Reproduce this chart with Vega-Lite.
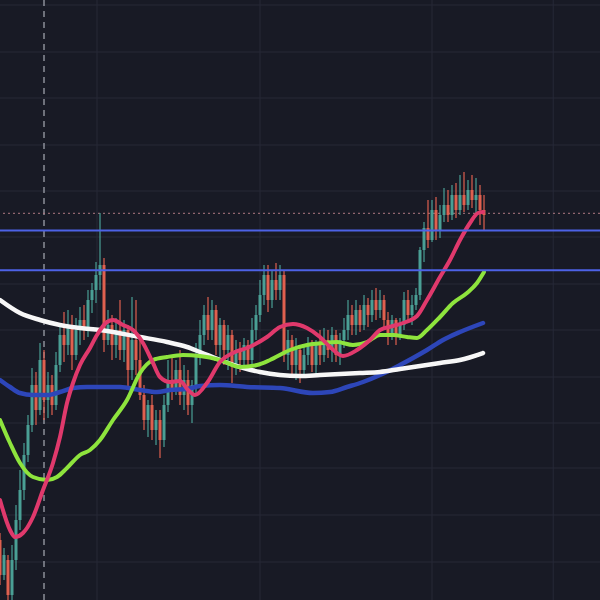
{
  "$schema": "https://vega.github.io/schema/vega-lite/v6.json",
  "autosize": {"type": "none"},
  "width": 600,
  "height": 600,
  "padding": 0,
  "background": "#181a25",
  "config": {"view": {"stroke": null}},
  "datasets": {
    "candles": [
      {"k":0,"o":106.0,"h":106.7,"l":101.5,"c":102.5},
      {"k":1,"o":102.5,"h":105.2,"l":102.0,"c":104.5},
      {"k":2,"o":104.0,"h":104.5,"l":99.5,"c":100.5},
      {"k":3,"o":100.5,"h":105.5,"l":99.5,"c":104.0},
      {"k":4,"o":104.0,"h":109.5,"l":103.0,"c":108.0},
      {"k":5,"o":108.0,"h":113.0,"l":107.0,"c":111.0},
      {"k":6,"o":111.0,"h":115.7,"l":110.0,"c":114.5},
      {"k":7,"o":114.5,"h":118.5,"l":113.8,"c":117.5},
      {"k":8,"o":117.5,"h":123.2,"l":116.8,"c":121.5},
      {"k":9,"o":121.5,"h":122.8,"l":117.5,"c":119.0},
      {"k":10,"o":119.0,"h":125.7,"l":118.5,"c":124.0},
      {"k":11,"o":124.0,"h":125.0,"l":118.0,"c":120.0},
      {"k":12,"o":120.0,"h":122.8,"l":118.2,"c":121.5},
      {"k":13,"o":121.5,"h":122.5,"l":118.5,"c":119.5},
      {"k":14,"o":119.5,"h":124.8,"l":119.0,"c":123.5},
      {"k":15,"o":123.5,"h":127.5,"l":122.8,"c":126.5},
      {"k":16,"o":126.5,"h":128.8,"l":123.8,"c":125.5},
      {"k":17,"o":125.5,"h":129.0,"l":124.5,"c":127.5},
      {"k":18,"o":127.5,"h":128.5,"l":123.0,"c":124.5},
      {"k":19,"o":124.5,"h":128.2,"l":124.0,"c":127.0},
      {"k":20,"o":127.0,"h":129.3,"l":125.5,"c":128.0},
      {"k":21,"o":128.0,"h":129.5,"l":126.0,"c":127.0},
      {"k":22,"o":127.0,"h":131.0,"l":126.3,"c":130.0},
      {"k":23,"o":130.0,"h":131.7,"l":128.7,"c":131.0},
      {"k":24,"o":131.0,"h":133.8,"l":129.7,"c":132.5},
      {"k":25,"o":132.5,"h":138.7,"l":131.0,"c":133.5},
      {"k":26,"o":133.5,"h":134.2,"l":124.8,"c":126.0},
      {"k":27,"o":126.0,"h":129.0,"l":125.5,"c":127.5},
      {"k":28,"o":127.5,"h":128.5,"l":124.0,"c":125.5},
      {"k":29,"o":125.5,"h":128.2,"l":124.2,"c":127.0},
      {"k":30,"o":127.0,"h":130.0,"l":124.0,"c":125.0},
      {"k":31,"o":125.0,"h":128.0,"l":123.8,"c":127.0},
      {"k":32,"o":127.0,"h":127.5,"l":121.0,"c":123.0},
      {"k":33,"o":123.0,"h":130.3,"l":122.0,"c":126.0},
      {"k":34,"o":126.0,"h":130.0,"l":122.5,"c":124.0},
      {"k":35,"o":124.0,"h":126.0,"l":120.0,"c":120.5},
      {"k":36,"o":120.5,"h":121.5,"l":117.0,"c":118.0},
      {"k":37,"o":118.0,"h":120.0,"l":116.3,"c":119.5},
      {"k":38,"o":119.5,"h":120.5,"l":116.0,"c":117.0},
      {"k":39,"o":117.0,"h":119.0,"l":115.5,"c":118.0},
      {"k":40,"o":118.0,"h":119.0,"l":114.2,"c":116.0},
      {"k":41,"o":116.0,"h":120.5,"l":115.3,"c":119.5},
      {"k":42,"o":119.5,"h":124.0,"l":118.8,"c":122.0},
      {"k":43,"o":122.0,"h":124.3,"l":120.0,"c":121.0},
      {"k":44,"o":121.0,"h":124.0,"l":120.5,"c":123.0},
      {"k":45,"o":123.0,"h":125.0,"l":119.5,"c":120.5},
      {"k":46,"o":120.5,"h":123.5,"l":119.0,"c":122.0},
      {"k":47,"o":122.0,"h":123.0,"l":118.5,"c":119.5},
      {"k":48,"o":119.5,"h":122.0,"l":117.7,"c":121.5},
      {"k":49,"o":121.5,"h":125.7,"l":120.5,"c":124.5},
      {"k":50,"o":124.5,"h":128.0,"l":123.5,"c":126.5},
      {"k":51,"o":126.5,"h":129.5,"l":125.5,"c":128.5},
      {"k":52,"o":128.5,"h":130.3,"l":126.0,"c":127.0},
      {"k":53,"o":127.0,"h":130.0,"l":126.0,"c":129.0},
      {"k":54,"o":129.0,"h":129.5,"l":124.5,"c":125.5},
      {"k":55,"o":125.5,"h":128.2,"l":124.2,"c":127.5},
      {"k":56,"o":127.5,"h":128.0,"l":123.5,"c":125.0},
      {"k":57,"o":125.0,"h":127.5,"l":123.0,"c":126.5},
      {"k":58,"o":126.5,"h":127.0,"l":121.7,"c":123.5},
      {"k":59,"o":123.5,"h":126.0,"l":122.5,"c":125.0},
      {"k":60,"o":125.0,"h":125.8,"l":122.8,"c":124.0},
      {"k":61,"o":124.0,"h":126.2,"l":123.2,"c":125.5},
      {"k":62,"o":125.5,"h":126.0,"l":123.0,"c":124.0},
      {"k":63,"o":124.0,"h":128.2,"l":123.5,"c":127.0},
      {"k":64,"o":127.0,"h":129.5,"l":126.0,"c":128.5},
      {"k":65,"o":128.5,"h":132.0,"l":127.8,"c":130.5},
      {"k":66,"o":130.5,"h":133.5,"l":129.5,"c":132.5},
      {"k":67,"o":132.5,"h":133.5,"l":128.8,"c":130.0},
      {"k":68,"o":130.0,"h":133.0,"l":129.2,"c":132.0},
      {"k":69,"o":132.0,"h":133.7,"l":130.0,"c":131.0},
      {"k":70,"o":131.0,"h":133.5,"l":130.0,"c":132.5},
      {"k":71,"o":132.5,"h":133.0,"l":123.8,"c":124.5},
      {"k":72,"o":124.5,"h":127.0,"l":123.0,"c":126.0},
      {"k":73,"o":126.0,"h":126.5,"l":122.5,"c":123.5},
      {"k":74,"o":123.5,"h":126.2,"l":122.0,"c":125.0},
      {"k":75,"o":125.0,"h":125.5,"l":121.7,"c":123.0},
      {"k":76,"o":123.0,"h":125.5,"l":122.2,"c":124.5},
      {"k":77,"o":124.5,"h":126.3,"l":123.5,"c":125.5},
      {"k":78,"o":125.5,"h":126.0,"l":122.8,"c":123.5},
      {"k":79,"o":123.5,"h":126.0,"l":122.5,"c":125.5},
      {"k":80,"o":125.5,"h":127.0,"l":123.5,"c":124.5},
      {"k":81,"o":124.5,"h":127.2,"l":123.8,"c":126.0},
      {"k":82,"o":126.0,"h":127.0,"l":124.2,"c":125.0},
      {"k":83,"o":125.0,"h":127.3,"l":123.8,"c":126.5},
      {"k":84,"o":126.5,"h":127.0,"l":123.8,"c":124.5},
      {"k":85,"o":124.5,"h":126.7,"l":123.5,"c":126.0},
      {"k":86,"o":126.0,"h":128.2,"l":125.2,"c":127.0},
      {"k":87,"o":127.0,"h":130.0,"l":126.0,"c":128.5},
      {"k":88,"o":128.5,"h":129.5,"l":126.5,"c":127.5},
      {"k":89,"o":127.5,"h":130.0,"l":126.5,"c":129.0},
      {"k":90,"o":129.0,"h":129.5,"l":126.8,"c":127.5},
      {"k":91,"o":127.5,"h":130.5,"l":127.0,"c":129.5},
      {"k":92,"o":129.5,"h":130.2,"l":127.3,"c":128.5},
      {"k":93,"o":128.5,"h":131.0,"l":127.8,"c":130.0},
      {"k":94,"o":130.0,"h":131.2,"l":128.0,"c":129.0},
      {"k":95,"o":129.0,"h":131.0,"l":128.2,"c":130.0},
      {"k":96,"o":130.0,"h":130.5,"l":127.0,"c":128.0},
      {"k":97,"o":128.0,"h":128.8,"l":125.5,"c":126.5},
      {"k":98,"o":126.5,"h":128.5,"l":126.0,"c":128.0},
      {"k":99,"o":128.0,"h":128.2,"l":125.5,"c":126.5},
      {"k":100,"o":126.5,"h":128.2,"l":126.0,"c":127.5},
      {"k":101,"o":127.5,"h":130.8,"l":127.0,"c":130.0},
      {"k":102,"o":130.0,"h":131.0,"l":127.8,"c":128.5},
      {"k":103,"o":128.5,"h":130.5,"l":127.5,"c":129.5},
      {"k":104,"o":129.5,"h":131.2,"l":129.0,"c":130.5},
      {"k":105,"o":130.5,"h":135.3,"l":130.0,"c":135.0},
      {"k":106,"o":135.0,"h":137.8,"l":133.8,"c":137.2},
      {"k":107,"o":137.2,"h":140.0,"l":135.2,"c":136.0},
      {"k":108,"o":136.0,"h":140.0,"l":135.8,"c":139.0},
      {"k":109,"o":139.0,"h":140.3,"l":136.0,"c":137.0},
      {"k":110,"o":137.0,"h":139.5,"l":136.2,"c":138.5},
      {"k":111,"o":138.5,"h":141.2,"l":137.8,"c":139.5},
      {"k":112,"o":139.5,"h":141.0,"l":137.8,"c":138.5},
      {"k":113,"o":138.5,"h":141.5,"l":138.0,"c":140.5},
      {"k":114,"o":140.5,"h":141.7,"l":138.2,"c":139.0},
      {"k":115,"o":139.0,"h":142.5,"l":138.5,"c":140.5},
      {"k":116,"o":140.5,"h":142.8,"l":138.8,"c":139.5},
      {"k":117,"o":139.5,"h":142.0,"l":139.0,"c":141.0},
      {"k":118,"o":141.0,"h":142.5,"l":139.2,"c":140.0},
      {"k":119,"o":140.0,"h":142.2,"l":138.5,"c":140.5},
      {"k":120,"o":140.5,"h":141.5,"l":137.5,"c":139.0},
      {"k":121,"o":139.0,"h":140.5,"l":137.0,"c":138.5}
    ],
    "pink": [
      {"k":0,"p":110.0},{"k":2.5,"p":107.0},{"k":3.75,"p":106.3},{"k":5.75,"p":106.7},{"k":8.25,"p":108.3},
      {"k":10.75,"p":111.0},{"k":13.25,"p":113.7},{"k":15,"p":116.3},{"k":16.75,"p":119.7},{"k":18.25,"p":121.7},
      {"k":20,"p":123.5},{"k":22.5,"p":125.2},{"k":24.25,"p":126.5},{"k":26.75,"p":127.8},{"k":28.25,"p":128.0},
      {"k":30.75,"p":127.5},{"k":33.25,"p":127.0},{"k":35.75,"p":125.7},{"k":38.25,"p":123.7},{"k":40,"p":122.3},
      {"k":42.5,"p":121.8},{"k":45,"p":121.9},{"k":47,"p":121.0},{"k":48.75,"p":120.5},{"k":51.75,"p":121.7},
      {"k":55,"p":123.8},{"k":58.75,"p":124.8},{"k":61.75,"p":125.2},{"k":66.75,"p":126.3},{"k":70,"p":127.3},
      {"k":73.25,"p":127.6},{"k":76.75,"p":127.2},{"k":80,"p":126.3},{"k":82.5,"p":125.3},{"k":85.75,"p":124.4},
      {"k":89.25,"p":125.0},{"k":92.5,"p":126.0},{"k":95,"p":127.0},{"k":98.25,"p":127.4},{"k":100.75,"p":127.7},
      {"k":104.25,"p":128.4},{"k":106.75,"p":130.0},{"k":110,"p":132.3},{"k":112.5,"p":134.0},{"k":115,"p":136.0},
      {"k":117.5,"p":137.7},{"k":119.5,"p":138.7},{"k":120.75,"p":138.8}
    ],
    "green": [
      {"k":0,"p":118.0},{"k":2.5,"p":115.7},{"k":5,"p":113.7},{"k":8.25,"p":112.3},{"k":11.75,"p":112.0},
      {"k":14.25,"p":112.3},{"k":16.75,"p":113.2},{"k":20,"p":114.5},{"k":22.5,"p":115.0},{"k":25,"p":116.0},
      {"k":28.25,"p":118.0},{"k":31.75,"p":120.0},{"k":35,"p":122.7},{"k":38.25,"p":124.0},{"k":41.75,"p":124.3},
      {"k":45.75,"p":124.5},{"k":50,"p":124.4},{"k":55,"p":124.0},{"k":60,"p":123.3},{"k":64.25,"p":123.5},
      {"k":67.5,"p":124.0},{"k":72.5,"p":125.0},{"k":76.75,"p":125.5},{"k":80.75,"p":125.7},{"k":84.25,"p":125.8},
      {"k":88.25,"p":125.5},{"k":91.75,"p":125.8},{"k":95,"p":126.5},{"k":98.25,"p":126.5},{"k":101.75,"p":126.3},
      {"k":104.25,"p":126.2},{"k":106.75,"p":127.0},{"k":110,"p":128.3},{"k":113.25,"p":129.7},{"k":116.75,"p":130.7},
      {"k":119.25,"p":131.7},{"k":121,"p":132.8}
    ],
    "blue": [
      {"k":0,"p":122.0},{"k":2.5,"p":121.3},{"k":5,"p":120.7},{"k":8.25,"p":120.5},{"k":11.75,"p":120.5},
      {"k":15,"p":120.8},{"k":18.25,"p":121.2},{"k":21.75,"p":121.3},{"k":25,"p":121.3},{"k":30,"p":121.3},
      {"k":35,"p":121.0},{"k":39.25,"p":120.8},{"k":42.5,"p":121.0},{"k":46.75,"p":121.1},{"k":50,"p":121.4},
      {"k":55,"p":121.5},{"k":61.75,"p":121.3},{"k":70,"p":121.2},{"k":78.25,"p":120.7},{"k":82.5,"p":120.8},
      {"k":86.75,"p":121.3},{"k":90.75,"p":121.8},{"k":95,"p":122.5},{"k":100,"p":123.5},{"k":103.25,"p":124.2},
      {"k":106.75,"p":125.0},{"k":110.75,"p":126.0},{"k":115,"p":126.8},{"k":120.75,"p":127.7}
    ],
    "white": [
      {"k":0,"p":130.0},{"k":5,"p":128.7},{"k":10,"p":128.0},{"k":15,"p":127.5},{"k":20,"p":127.2},
      {"k":25,"p":127.0},{"k":35,"p":126.3},{"k":41.75,"p":125.8},{"k":46.75,"p":125.3},{"k":50,"p":124.8},
      {"k":55,"p":124.0},{"k":60,"p":123.3},{"k":65,"p":122.8},{"k":70,"p":122.5},{"k":75,"p":122.4},
      {"k":80,"p":122.5},{"k":85,"p":122.6},{"k":90,"p":122.7},{"k":95,"p":122.8},{"k":100,"p":123.1},
      {"k":105,"p":123.4},{"k":110,"p":123.7},{"k":115,"p":124.0},{"k":120.75,"p":124.7}
    ],
    "hgrid": [
      {"p":159.5},{"p":154.8},{"p":150.2},{"p":145.5},{"p":140.9},{"p":136.3},{"p":131.6},
      {"p":127.0},{"p":122.3},{"p":117.7},{"p":113.2},{"p":108.5},{"p":103.8}
    ],
    "vgrid": [{"k":24.25},{"k":65},{"k":108},{"k":138.3}],
    "levels": [{"p":136.95},{"p":132.97}],
    "last": [{"p":138.67}],
    "marker": [{"k":11}]
  },
  "encoding": {
    "x": {"field": "k", "type": "quantitative", "scale": {"domain": [0, 150], "nice": false, "zero": false, "padding": 0}, "axis": null}
  },
  "layer": [
    {
      "data": {"name": "hgrid"},
      "mark": {"type": "rule", "stroke": "#262937", "strokeWidth": 1, "clip": true},
      "encoding": {"x": null, "y": {"field": "p", "type": "quantitative", "scale": {"domain": [100, 160], "nice": false, "zero": false, "padding": 0}, "axis": null}}
    },
    {
      "data": {"name": "vgrid"},
      "mark": {"type": "rule", "stroke": "#262937", "strokeWidth": 1, "clip": true},
      "encoding": {}
    },
    {
      "data": {"name": "marker"},
      "mark": {"type": "rule", "stroke": "#c4c8d2", "strokeWidth": 1, "strokeDash": [6, 5], "clip": true},
      "encoding": {}
    },
    {
      "data": {"name": "last"},
      "mark": {"type": "rule", "stroke": "#b07a82", "strokeWidth": 1, "strokeDash": [2, 3], "clip": true},
      "encoding": {"x": null, "y": {"field": "p", "type": "quantitative"}}
    },
    {
      "data": {"name": "candles"},
      "mark": {"type": "rule", "strokeWidth": 1.2, "clip": true},
      "encoding": {
        "y": {"field": "h", "type": "quantitative"},
        "y2": {"field": "l"},
        "color": {"condition": {"test": "datum.c >= datum.o", "value": "#4a9f95"}, "value": "#e0604f"}
      }
    },
    {
      "data": {"name": "candles"},
      "mark": {"type": "bar", "size": 3, "clip": true},
      "encoding": {
        "y": {"field": "o", "type": "quantitative"},
        "y2": {"field": "c"},
        "color": {"condition": {"test": "datum.c >= datum.o", "value": "#4a9f95"}, "value": "#e0604f"}
      }
    },
    {
      "data": {"name": "blue"},
      "mark": {"type": "line", "stroke": "#2d46b9", "strokeWidth": 4.5, "interpolate": "monotone", "strokeCap": "round", "clip": true},
      "encoding": {"y": {"field": "p", "type": "quantitative"}}
    },
    {
      "data": {"name": "white"},
      "mark": {"type": "line", "stroke": "#f7f7f7", "strokeWidth": 4.5, "interpolate": "monotone", "strokeCap": "round", "clip": true},
      "encoding": {"y": {"field": "p", "type": "quantitative"}}
    },
    {
      "data": {"name": "green"},
      "mark": {"type": "line", "stroke": "#8ee43d", "strokeWidth": 4, "interpolate": "monotone", "strokeCap": "round", "clip": true},
      "encoding": {"y": {"field": "p", "type": "quantitative"}}
    },
    {
      "data": {"name": "pink"},
      "mark": {"type": "line", "stroke": "#e0396c", "strokeWidth": 4, "interpolate": "monotone", "strokeCap": "round", "clip": true},
      "encoding": {"y": {"field": "p", "type": "quantitative"}}
    },
    {
      "data": {"name": "levels"},
      "mark": {"type": "rule", "stroke": "#4d62e6", "strokeWidth": 2, "clip": true},
      "encoding": {"x": null, "y": {"field": "p", "type": "quantitative"}}
    }
  ]
}
